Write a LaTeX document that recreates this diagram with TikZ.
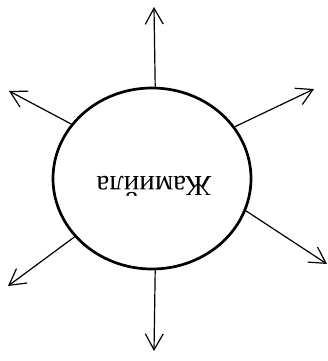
\documentclass[tikz,border=0pt]{standalone}
\usepackage{fontspec}
\setmainfont{Liberation Serif}
\usetikzlibrary{shapes.geometric,arrows.meta}
\tikzset{
  circ/.style={ellipse, draw, line width=2.7pt, minimum width=198pt, minimum height=181pt, inner sep=0pt},
  ray/.style={line width=1.2pt, -{Straight Barb[length=16pt,width=18pt,line width=1.2pt]}},
  lbl/.style={font=\fontsize{29}{32}\selectfont, rotate=180}
}
\begin{document}
\begin{tikzpicture}[x=1pt,y=-1pt]
\useasboundingbox (0,0) rectangle (327,361);
\node[circ] (c) at (152,178.5) {};
\node[lbl] (t) at (154,186) {Жамийла};
\coordinate (tn) at (154,7);
\coordinate (ts) at (154,351);
\coordinate (tul) at (9,91);
\coordinate (tur) at (314,89);
\coordinate (tlr) at (327,264);
\coordinate (tll) at (8,286);
\draw[ray] (c.88.4) -- (tn);
\draw[ray] (c.-88.5) -- (ts);
\draw[ray] (c.146.3) -- (tul);
\draw[ray] (c.32.4) -- (tur);
\draw[ray] (c.-19.9) -- (tlr);
\draw[ray] (c.217.6) -- (tll);
\end{tikzpicture}
\end{document}
